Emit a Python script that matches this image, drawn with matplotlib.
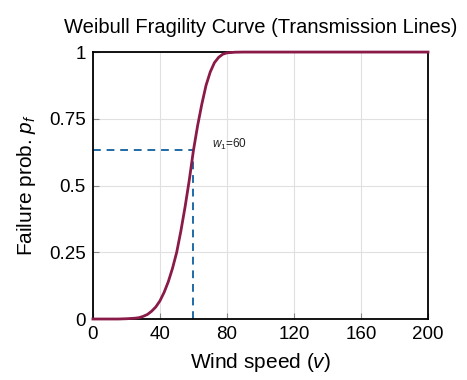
import matplotlib
matplotlib.use("Agg")
import matplotlib.pyplot as plt

# values
wind_speed = [0, 5, 10, 15, 20, 25, 27.5, 30, 32.5, 35, 37.5, 40, 42.5, 45, 47.5, 50,
              52.5, 55, 57.5, 60, 62.5, 65, 67.5, 70, 72.5, 75, 77.5, 80, 85, 90,
              100, 120, 140, 160, 180, 200]
fail_prob = [0.0, 0.0, 0.0, 0.0, 0.001, 0.003, 0.005, 0.010, 0.017, 0.029, 0.045,
             0.068, 0.100, 0.140, 0.190, 0.250, 0.330, 0.420, 0.520, 0.632, 0.725,
             0.805, 0.875, 0.925, 0.960, 0.980, 0.992, 0.997, 0.9995, 1.0,
             1.0, 1.0, 1.0, 1.0, 1.0, 1.0]
w1 = 60
p_w1 = 0.632
x_ticks = [0, 40, 80, 120, 160, 200]
y_ticks = [0, 0.25, 0.5, 0.75, 1]
y_tick_labels = ["0", "0.25", "0.5", "0.75", "1"]

plt.rcParams['font.family'] = ['Liberation Sans', 'DejaVu Sans']
plt.rcParams['mathtext.fontset'] = 'custom'
plt.rcParams['mathtext.rm'] = 'Liberation Sans'
plt.rcParams['mathtext.it'] = 'Liberation Sans:italic'

fig = plt.figure(figsize=(4.67, 3.8), dpi=100)
ax = fig.add_axes([0.199, 0.1605, 0.7175, 0.7025])

ax.plot([0, w1], [p_w1, p_w1], color='#1f6aa5', lw=1.4, ls=(0, (4, 3)), zorder=2)
ax.plot([w1, w1], [0, p_w1], color='#1f6aa5', lw=1.4, ls=(0, (4, 3)), zorder=2)
ax.plot(wind_speed, fail_prob, color='#8a1a47', lw=2.0, zorder=3, clip_on=False)

ax.text(71, 0.655, r"$w_1$=60", fontsize=8.5, va='center', ha='left', color='#222222')

ax.set_xlim(0, 200)
ax.set_ylim(0, 1)
ax.set_xticks(x_ticks)
ax.set_yticks(y_ticks)
ax.set_yticklabels(y_tick_labels)
ax.grid(True, color='#e0e0e0', lw=0.8)
ax.set_axisbelow(True)
ax.tick_params(direction='in', length=4, color='#888888', labelsize=13.5, pad=5)
for s in ax.spines.values():
    s.set_linewidth(1.3)
    s.set_color('black')

ax.set_xlabel(r"Wind speed ($v$)", fontsize=15, labelpad=6)
ax.set_ylabel(r"Failure prob. $p_f$", fontsize=15, labelpad=8)
ax.set_title("Weibull Fragility Curve (Transmission Lines)", fontsize=14.5, pad=14)

fig.savefig("out.png", dpi=100)
